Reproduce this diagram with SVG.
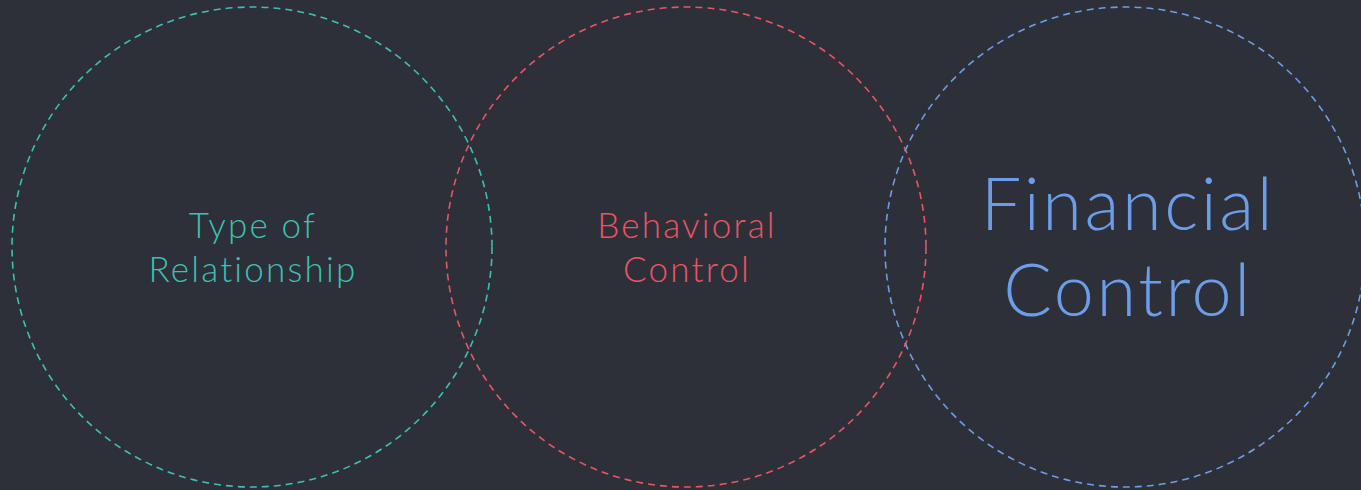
<svg xmlns="http://www.w3.org/2000/svg" width="1361" height="490" viewBox="0 0 1361 490">
<style>
.c{fill:none;stroke-width:1.6;stroke-dasharray:7 5}
.t{font-family:"Lato","Open Sans","Liberation Sans",sans-serif;font-weight:300;text-anchor:middle;font-size:35px;letter-spacing:2.2px}
.big{font-size:72px;letter-spacing:2.6px}
</style>
<rect width="1361" height="490" fill="#2d3038"/>
<g id="connectors"/>
<g id="type-of-relationship">
<circle class="c" cx="252" cy="247" r="240" stroke="#3cc0b5"/>
<text class="t" x="253" y="238" fill="#3cc0b5">Type of</text>
<text class="t" x="253" y="282" fill="#3cc0b5">Relationship</text>
</g>
<g id="behavioral-control">
<circle class="c" cx="686" cy="247" r="240" stroke="#ec5462"/>
<text class="t" x="687" y="238" fill="#ec5462">Behavioral</text>
<text class="t" x="687" y="282" fill="#ec5462">Control</text>
</g>
<g id="financial-control">
<circle class="c" cx="1125" cy="247" r="240" stroke="#6c9de8"/>
<text class="t big" x="1128" y="230" fill="#6c9de8">Financial</text>
<text class="t big" x="1128" y="316" fill="#6c9de8">Control</text>
</g>
</svg>
